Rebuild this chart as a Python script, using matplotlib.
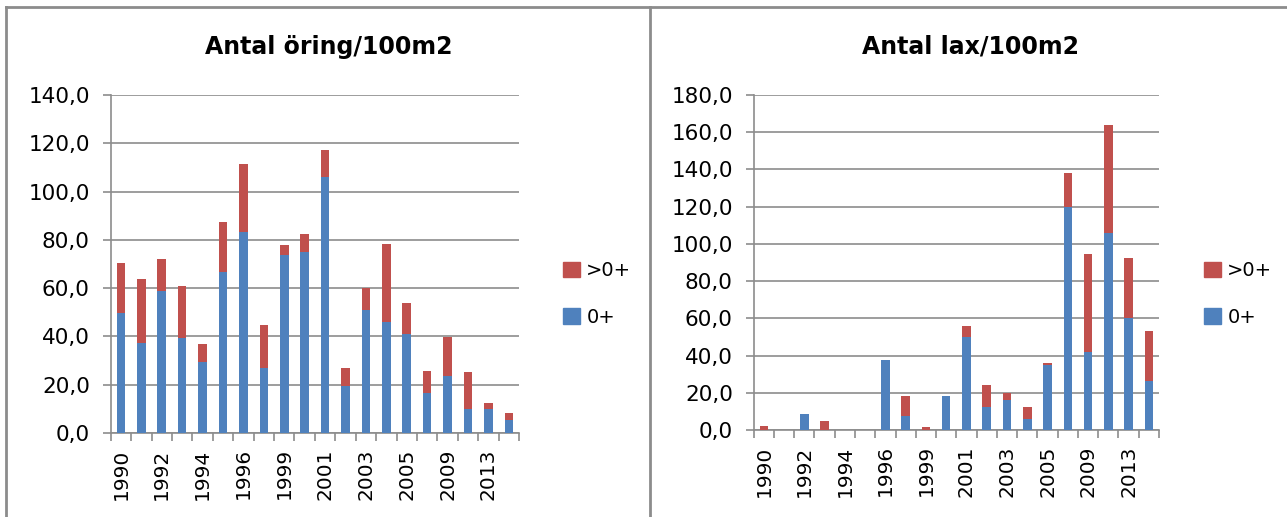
import matplotlib
matplotlib.use("Agg")
import matplotlib.pyplot as plt
from matplotlib.lines import Line2D
from matplotlib.patches import Patch
from matplotlib.ticker import FuncFormatter, MultipleLocator
import numpy as np

# years (only every other one is shown on the axis)
years = [1990, 1991, 1992, 1993, 1994, 1995, 1996, 1997, 1999, 2000,
         2001, 2002, 2003, 2004, 2005, 2007, 2009, 2011, 2013, 2015]

# Antal öring/100m2
oring_0 = [49.7, 37.4, 58.7, 39.5, 29.4, 66.7, 83.3, 26.9, 73.6, 75.1,
           106.0, 19.3, 50.8, 46.0, 41.1, 16.7, 23.7, 9.8, 9.8, 5.5]
oring_older = [20.7, 26.5, 13.2, 21.2, 7.6, 20.7, 28.0, 18.0, 4.3, 7.5,
               11.2, 7.5, 9.3, 32.4, 12.9, 9.1, 15.9, 15.3, 2.6, 2.6]

# Antal lax/100m2
lax_0 = [0, 0, 8.4, 0, 0, 0, 37.4, 7.7, 0, 18.1,
         49.8, 12.5, 16.1, 5.7, 34.7, 119.6, 42.1, 105.7, 60.2, 26.3]
lax_older = [2.1, 0, 0, 5.0, 0, 0, 0, 10.4, 1.4, 0,
             6.3, 11.9, 3.6, 6.8, 1.3, 18.5, 52.6, 58.0, 32.4, 27.1]

blue = '#4F81BD'
red = '#C0504D'
grey = '#8c8c8c'

W, H = 1287, 517
fig = plt.figure(figsize=(W / 100, H / 100), dpi=100)


def px(x0, y0, x1, y1):
	return [x0 / W, 1 - y1 / H, (x1 - x0) / W, (y1 - y0) / H]


def draw(ax, young, older, ymax, title, tx, legx):
	x = np.arange(len(years))
	ax.bar(x, young, width=0.42, color=blue, zorder=3)
	ax.bar(x, older, width=0.42, bottom=young, color=red, zorder=3)
	ax.set_xlim(-0.5, len(years) - 0.5)
	ax.set_ylim(0, ymax)
	ax.yaxis.set_major_locator(MultipleLocator(20))
	ax.yaxis.set_major_formatter(FuncFormatter(lambda v, p: f'{v:.1f}'.replace('.', ',')))
	ax.grid(axis='y', color=grey, linewidth=1.2, zorder=0)
	ax.set_xticks(np.arange(len(years) + 1) - 0.5)
	ax.set_xticklabels([])
	ax.set_xticks(x[::2], [str(y) for y in years[::2]], minor=True)
	ax.tick_params(axis='x', which='minor', length=0, rotation=90, labelsize=14.5, pad=11)
	ax.tick_params(axis='x', which='major', length=6, color=grey, width=1.2)
	ax.tick_params(axis='y', length=6, color=grey, width=1.2, labelsize=15.5, pad=9)
	for s in ['top', 'right']:
		ax.spines[s].set_visible(False)
	for s in ['left', 'bottom']:
		ax.spines[s].set_color(grey)
		ax.spines[s].set_linewidth(1.2)
	fig.text(tx / W, 1 - 47 / H, title, ha='center', va='center', fontsize=17, fontweight='bold')
	handles = [Patch(color=red, label='>0+'), Patch(color=blue, label='0+')]
	fig.legend(handles=handles, loc='center left', bbox_to_anchor=(legx / W, 1 - 294 / H),
	           frameon=False, fontsize=14, handlelength=0.85, handleheight=0.85,
	           handletextpad=0.35, labelspacing=1.4, borderpad=0, borderaxespad=0)


ax1 = fig.add_axes(px(110.7, 95, 519, 433))
draw(ax1, oring_0, oring_older, 140, 'Antal öring/100m2', 329, 563)

ax2 = fig.add_axes(px(753.7, 95, 1159, 430))
draw(ax2, lax_0, lax_older, 180, 'Antal lax/100m2', 971, 1204)

# chart borders
fig.add_artist(Line2D([6 / W, 1], [1 - 7 / H, 1 - 7 / H], color=grey, linewidth=2))
fig.add_artist(Line2D([6 / W, 6 / W], [0, 1 - 7 / H], color=grey, linewidth=2))
fig.add_artist(Line2D([650 / W, 650 / W], [0, 1 - 7 / H], color=grey, linewidth=2))

fig.savefig('out.png', dpi=100)
